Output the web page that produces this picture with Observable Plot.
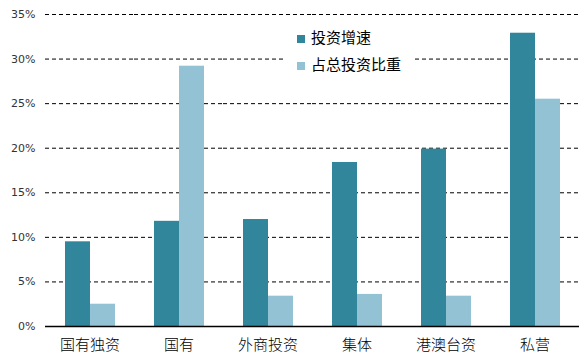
<!DOCTYPE html>
<html><head><meta charset="utf-8">
<script src="https://cdn.jsdelivr.net/npm/d3@7"></script>
<script src="https://cdn.jsdelivr.net/npm/@observablehq/plot@0.6"></script>
<style>
body{margin:0;background:#fff}
#wrap{position:relative;width:586px;height:355px}
#legend{position:absolute;left:285px;top:21px;width:128px;background:#fff;font-family:"Noto Sans CJK SC",sans-serif;font-size:15px;color:#000;padding:2px 0 4px 12px;box-sizing:border-box}
#legend .row{display:flex;align-items:center;height:27px;line-height:15px}
#legend .sw{width:8px;height:8px;margin-right:6px;margin-top:5px;flex:none}
</style></head>
<body><div id="wrap"><div id="legend"></div></div>
<script>
const categories = ["国有独资","国有","外商投资","集体","港澳台资","私营"];
const series = ["投资增速","占总投资比重"];
const growth = [9.5,11.8,12.0,18.4,19.9,32.9];
const share = [2.5,29.2,3.4,3.6,3.4,25.5];
const yTicks = [0,5,10,15,20,25,30,35];
const colors = ["#31869b","#93c2d4"];

const data = categories.flatMap((c,i)=>[
  {category:c, series:series[0], value:growth[i]},
  {category:c, series:series[1], value:share[i]}
]);

const chart = Plot.plot({
  width:586, height:355,
  marginLeft:44, marginRight:7, marginTop:14, marginBottom:29,
  style:{background:"#fff"},
  fx:{domain:categories, padding:0, label:null},
  x:{domain:series, axis:null, paddingInner:0, paddingOuter:0.745},
  y:{domain:[0,35], label:null},
  color:{domain:series, range:colors},
  marks:[
    Plot.ruleY(yTicks.filter(d=>d>0), {stroke:"#000", strokeWidth:1, strokeDasharray:"4,3"}),
    Plot.barY(data, {fx:"category", x:"series", y:"value", fill:"series"}),
    Plot.ruleY([0], {stroke:"#000", strokeWidth:1.5}),
    Plot.axisY({ticks:yTicks, tickFormat:d=>d+"%", tickSize:0, tickPadding:10, label:null, fontSize:11, fontFamily:"DejaVu Sans", fill:"#333"}),
    Plot.axisFx({anchor:"bottom", tickSize:0, tickPadding:13, label:null, fontSize:15, fontFamily:"Noto Sans CJK SC", fontWeight:300, fill:"#000"})
  ]
});
document.getElementById("wrap").prepend(chart);

const lg = document.getElementById("legend");
series.forEach((s,i)=>{
  const row = document.createElement("div"); row.className="row";
  const sw = document.createElement("span"); sw.className="sw"; sw.style.background=colors[i];
  const t = document.createElement("span"); t.textContent = s;
  row.append(sw,t); lg.append(row);
});
</script>
</body></html>
